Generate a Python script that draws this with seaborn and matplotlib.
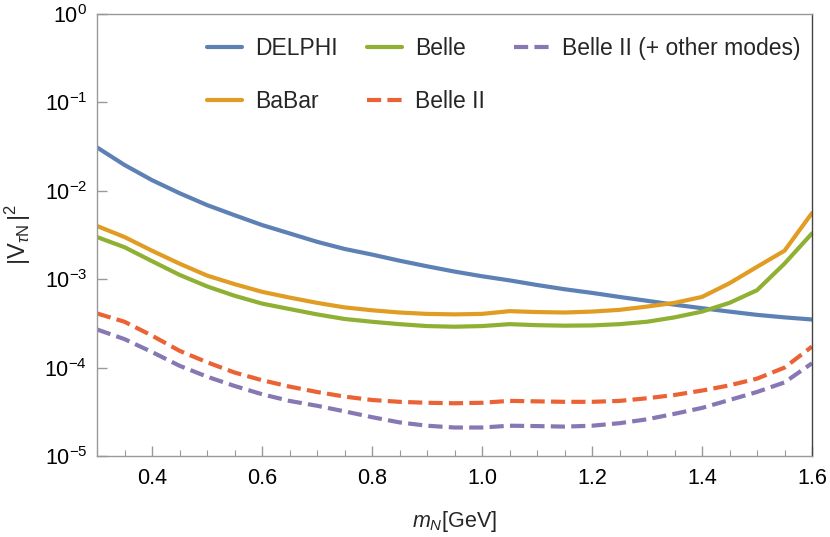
import numpy as np
import pandas as pd
import matplotlib
matplotlib.use("Agg")
import matplotlib.pyplot as plt
import seaborn as sns
from matplotlib.ticker import MultipleLocator, LogLocator, NullLocator

# ---- data ----
mass = [0.30, 0.35, 0.40, 0.45, 0.50, 0.55, 0.60, 0.65, 0.70, 0.75, 0.80, 0.85, 0.90,
        0.95, 1.00, 1.05, 1.10, 1.15, 1.20, 1.25, 1.30, 1.35, 1.40, 1.45, 1.50, 1.55, 1.60]

delphi = [3.1e-2, 1.96e-2, 1.32e-2, 9.4e-3, 6.9e-3, 5.3e-3, 4.1e-3, 3.3e-3, 2.65e-3, 2.2e-3,
          1.9e-3, 1.62e-3, 1.4e-3, 1.22e-3, 1.08e-3, 9.7e-4, 8.6e-4, 7.7e-4, 7.0e-4, 6.3e-4,
          5.7e-4, 5.15e-4, 4.7e-4, 4.3e-4, 3.95e-4, 3.7e-4, 3.5e-4]
babar = [4.0e-3, 3.0e-3, 2.1e-3, 1.5e-3, 1.1e-3, 8.8e-4, 7.2e-4, 6.2e-4, 5.4e-4, 4.8e-4,
         4.45e-4, 4.2e-4, 4.05e-4, 4.0e-4, 4.05e-4, 4.35e-4, 4.25e-4, 4.2e-4, 4.3e-4, 4.5e-4,
         4.9e-4, 5.4e-4, 6.3e-4, 9.0e-4, 1.38e-3, 2.1e-3, 5.6e-3]
belle = [3.0e-3, 2.3e-3, 1.6e-3, 1.12e-3, 8.3e-4, 6.5e-4, 5.3e-4, 4.6e-4, 4.0e-4, 3.55e-4,
         3.3e-4, 3.1e-4, 2.95e-4, 2.9e-4, 2.95e-4, 3.1e-4, 3.02e-4, 2.98e-4, 3.0e-4, 3.1e-4,
         3.3e-4, 3.7e-4, 4.3e-4, 5.4e-4, 7.5e-4, 1.5e-3, 3.3e-3]
belle2 = [4.1e-4, 3.3e-4, 2.3e-4, 1.55e-4, 1.15e-4, 8.8e-5, 7.2e-5, 6.1e-5, 5.3e-5, 4.7e-5,
          4.3e-5, 4.1e-5, 4.0e-5, 3.95e-5, 4.0e-5, 4.2e-5, 4.15e-5, 4.1e-5, 4.1e-5, 4.2e-5,
          4.5e-5, 4.9e-5, 5.5e-5, 6.3e-5, 7.5e-5, 1.0e-4, 1.73e-4]
belle2_other = [2.7e-4, 2.1e-4, 1.5e-4, 1.05e-4, 7.9e-5, 6.2e-5, 5.0e-5, 4.2e-5, 3.7e-5, 3.2e-5,
                2.75e-5, 2.4e-5, 2.2e-5, 2.1e-5, 2.1e-5, 2.2e-5, 2.18e-5, 2.15e-5, 2.2e-5, 2.35e-5,
                2.6e-5, 3.0e-5, 3.5e-5, 4.3e-5, 5.3e-5, 6.8e-5, 1.12e-4]

labels = ["DELPHI", "BaBar", "Belle", "Belle II", "Belle II (+ other modes)"]
series = [delphi, babar, belle, belle2, belle2_other]
colors = ["#5E81B5", "#E19C24", "#8FB032", "#EB6235", "#8778B3"]
dashed = [False, False, False, True, True]

sns.set_theme(style="white")
plt.rcParams["font.family"] = ["Liberation Sans", "DejaVu Sans"]
plt.rcParams["mathtext.fontset"] = "custom"
plt.rcParams["mathtext.rm"] = "Liberation Sans"
plt.rcParams["mathtext.it"] = "Liberation Sans:italic"
plt.rcParams["mathtext.sf"] = "Liberation Sans"

fig = plt.figure(figsize=(8.30, 5.37), dpi=100)
ax = fig.add_axes([97 / 830, 1 - 456 / 537, (812 - 97) / 830, (456 - 14) / 537])

for lab, vals, col, dsh in zip(labels, series, colors, dashed):
    df = pd.DataFrame({"m": mass, "v": vals})
    sns.lineplot(data=df, x="m", y="v", ax=ax, color=col, linewidth=3.0, label=lab)
    if dsh:
        ax.lines[-1].set_dashes((3.4, 1.5))

ax.set_yscale("log")
ax.set_xlim(0.3, 1.6)
ax.set_ylim(1e-5, 1)

ax.xaxis.set_minor_locator(MultipleLocator(0.05))
ax.set_xticks([0.4, 0.6, 0.8, 1.0, 1.2, 1.4, 1.6])
ax.set_xticklabels(["0.4", "0.6", "0.8", "1.0", "1.2", "1.4", "1.6"])
ax.yaxis.set_major_locator(LogLocator(base=10, numticks=10))
ax.yaxis.set_minor_locator(NullLocator())

ax.tick_params(axis="both", which="both", direction="in", colors="#999999",
               labelcolor="black", labelsize=15.5, bottom=True, left=True,
               top=False, right=False)
ax.tick_params(axis="x", which="major", length=7, width=1, pad=9)
ax.tick_params(axis="x", which="minor", length=4, width=0.8)
ax.tick_params(axis="y", which="major", length=7, width=1, pad=7)

for side in ["left", "bottom", "top"]:
    ax.spines[side].set_color("#999999")
    ax.spines[side].set_linewidth(1.0)
ax.spines["right"].set_color("#444444")
ax.spines["right"].set_linewidth(1.0)

ax.set_xlabel(r"$m_N$[GeV]", fontsize=15.5, labelpad=14)
ax.set_ylabel(r"$|\mathrm{V}_{\tau\mathrm{N}}\,|^{2}$", fontsize=17, labelpad=8)

handles, labs = ax.get_legend_handles_labels()
ax.legend(handles, labs, ncol=3, loc="upper left",
          bbox_to_anchor=(207 / 830, 1 - 37 / 537), bbox_transform=fig.transFigure,
          frameon=False, fontsize=16.5, handlelength=1.53, handletextpad=0.57,
          columnspacing=1.27, labelspacing=1.3, borderpad=0, borderaxespad=0)

fig.savefig("out.png", dpi=100)
